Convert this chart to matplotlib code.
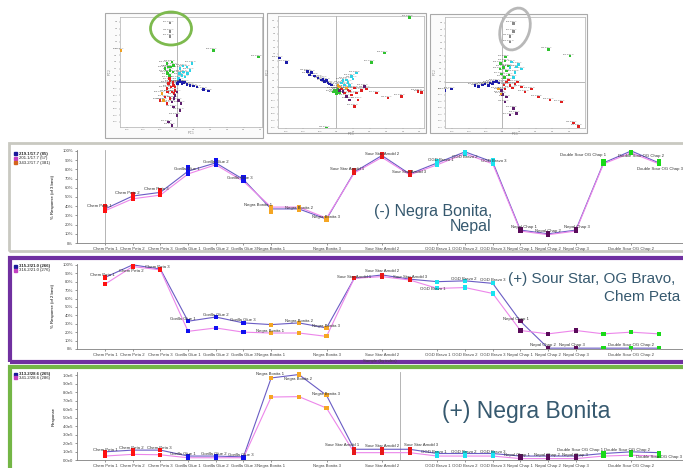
"""Cannabis strain profiling: PCA score plots and marker-ion response traces."""

import numpy as np
import matplotlib
matplotlib.use("Agg")
import matplotlib.pyplot as plt
from matplotlib.patches import Rectangle, Ellipse

# ---------------------------------------------------------------- data
samples = [
    "Chem Peta 1", "Chem Peta 2", "Chem Peta 3",
    "Gorilla Glue 1", "Gorilla Glue 2", "Gorilla Glue 3",
    "Negra Bonita 1", "Negra Bonita 2", "Negra Bonita 3",
    "Sour Star Arnold 1", "Sour Star Arnold 2", "Sour Star Arnold 3",
    "OGD Bravo 1", "OGD Bravo 2", "OGD Bravo 3",
    "Nepal Chap 1", "Nepal Chap 2", "Nepal Chap 3",
    "Double Sour OG Chap 1", "Double Sour OG Chap 2", "Double Sour OG Chap 3",
]
strain_colors = (["#ff1010"] * 3 + ["#1010f0"] * 3 + ["#f5a623"] * 3
                 + ["#e81818"] * 3 + ["#19e3f0"] * 3 + ["#5a0a5a"] * 3
                 + ["#19d919"] * 3)
tick_idx = [0, 1, 2, 3, 4, 5, 6, 8, 10, 12, 13, 14, 15, 16, 17, 19]

# panel 1: % response (of 3 best), three marker ions
ion1_names = ["219.1/17.7 (85)", "201.1/17.7 (57)", "343.2/17.7 (381)"]
ion1_a = [37, 51, 55, 78, 87, 69, 37, 37, 26, 77, 95, 75, 87, 99, 88, 14, 10, 14, 87, 100, 87]
ion1_b = [35, 48, 52, 75, 85, 67, 39, 39, 27, 76, 93, 74, 85, 97, 86, 13, 9, 13, 86, 98, 86]
ion1_c = [40, 53, 58, 82, 90, 72, 34, 36, 25, 79, 97, 77, 89, 100, 90, 15, 11, 15, 89, 100, 89]

# panel 2: % response, two marker ions
ion2_names = ["315.2/21.0 (266)", "316.2/21.0 (276)"]
ion2_a = [85, 100, 95, 33, 38, 31, 29, 31, 25, 84, 88, 83, 80, 81, 78, 33, 1, 1, 1, 1, 1]
ion2_b = [77, 98, 94, 21, 25, 20, 19, 19, 15, 84, 86, 82, 72, 73, 66, 22, 18, 22, 18, 20, 18]

# panel 3: raw response, two marker ions
ion3_names = ["313.2/28.6 (265)", "341.2/28.6 (286)"]
ion3_a = [1.0e5, 1.2e5, 1.2e5, 0.5e5, 0.5e5, 0.4e5, 9.7e5, 10.1e5, 7.65e5, 1.3e5, 1.3e5,
          1.3e5, 0.8e5, 0.8e5, 0.8e5, 0.5e5, 0.5e5, 0.5e5, 0.8e5, 1.0e5, 0.9e5]
ion3_b = [0.5e5, 0.7e5, 0.65e5, 0.3e5, 0.3e5, 0.3e5, 7.45e5, 7.5e5, 6.15e5, 0.9e5, 0.9e5,
          0.9e5, 0.5e5, 0.5e5, 0.5e5, 0.2e5, 0.2e5, 0.2e5, 0.5e5, 0.6e5, 0.5e5]

# PCA score plots (PC1, PC2) with strain group codes
scores1 = [(-0.30, 0.55), (-0.25, 0.45), (-0.20, 0.35), (-0.30, 0.30), (-0.15, 0.60),
           (-0.35, 0.40), (-0.22, 0.20), (-0.18, 0.45), (-0.28, 0.25), (-0.10, 0.50),
           (-0.12, 0.30), (2.45, 0.75), (1.10, 0.95), (-1.68, 0.95),
           (0.10, 0.40), (0.20, 0.30), (0.30, 0.45), (0.15, 0.20), (0.40, 0.35),
           (0.05, 0.10), (0.25, 0.15), (0.45, 0.55), (0.08, 0.25), (0.32, 0.25), (0.18, 0.48),
           (-0.20, 0.05), (-0.10, -0.10), (-0.30, -0.20), (-0.15, -0.30), (-0.25, -0.05),
           (-0.05, -0.25), (-0.35, -0.45), (-0.20, -0.50), (-0.50, -0.55), (-0.30, -0.65),
           (-0.12, -0.02), (-0.18, -0.15), (-0.08, -0.35), (-0.28, -0.30), (-0.22, 0.10),
           (-0.05, -0.15),
           (0.05, 0.00), (0.15, -0.05), (0.25, 0.00), (0.40, -0.10), (0.60, -0.15),
           (0.80, -0.23), (0.95, -0.27), (0.10, 0.05), (0.02, -0.05), (0.20, -0.02),
           (0.30, -0.08), (0.50, -0.12), (0.12, 0.00),
           (-0.05, -0.40), (0.05, -0.55), (-0.10, -0.75), (0.10, -0.85), (0.00, -1.00),
           (-0.15, -0.60), (0.00, -0.30), (0.12, -0.65), (-0.08, -0.50), (-0.25, -1.20),
           (-0.15, -1.30),
           (-0.40, -0.55), (-0.45, -0.35),
           (-0.20, 1.77), (-0.20, 1.52), (-0.20, 1.37)]
groups1 = "g" * 13 + "o" + "c" * 11 + "r" * 16 + "b" * 13 + "p" * 11 + "oo" + "kkk"

scores2 = [(-1.70, 0.87), (-1.50, 0.74), (-0.87, 0.47), (-0.75, 0.44), (-0.80, 0.37),
           (-0.65, 0.34), (-0.45, 0.22), (-0.35, 0.17), (-0.25, 0.12), (-0.15, 0.07),
           (-0.30, 0.20), (-0.55, 0.28), (-0.40, 0.25), (-0.20, 0.10),
           (0.15, 0.12), (0.30, 0.22), (0.45, 0.32), (0.60, 0.42), (0.35, 0.14),
           (0.25, 0.07), (0.50, 0.25), (0.20, 0.20), (0.40, 0.05),
           (2.20, 2.10), (1.45, 1.02), (1.05, 0.74), (0.00, -0.13), (0.10, -0.18),
           (-0.05, -0.08), (0.05, -0.06), (0.00, -0.20), (-0.08, -0.15), (-0.30, -1.23),
           (0.15, -0.06), (0.35, -0.08), (0.55, -0.03), (0.75, -0.10), (1.20, -0.18),
           (1.55, -0.33), (1.95, -0.28), (2.45, -0.13), (2.55, -0.16), (0.25, -0.18),
           (0.45, -0.23), (0.65, -0.38), (0.55, -0.58), (0.30, -0.02), (0.20, -0.12),
           (0.40, -0.12), (0.60, -0.18), (0.90, -0.05),
           (0.20, -0.13), (0.85, 0.02), (0.40, -0.38), (0.30, -0.28), (0.10, -0.10),
           (0.10, 0.00), (0.30, -0.03), (0.05, 0.05)]
groups2 = "b" * 14 + "c" * 9 + "g" * 10 + "r" * 18 + "p" * 5 + "ooo"

scores3 = [(0.33, 1.78), (0.33, 1.53), (0.23, 1.38), (0.23, 1.21),
           (0.08, 0.63), (0.03, 0.43), (0.13, 0.33), (-0.02, 0.23), (0.18, 0.48),
           (0.06, 0.13), (-0.07, 0.38), (0.10, 0.75), (-0.05, 0.55), (0.20, 0.20),
           (1.38, 0.98), (2.03, 0.78),
           (0.23, 0.43), (0.38, 0.28), (0.48, 0.53), (0.33, 0.13), (0.58, 0.38),
           (0.28, 0.60), (0.42, 0.45),
           (-1.72, -0.27), (-1.52, -0.22), (-0.82, -0.12), (-0.72, -0.15), (-0.52, -0.07),
           (-0.37, -0.05), (-0.27, -0.02), (-0.17, 0.00), (-0.42, -0.12), (-0.60, -0.10),
           (-0.30, -0.08), (-0.10, -0.05),
           (0.13, -0.02), (0.23, -0.12), (0.38, -0.07), (0.58, -0.17), (0.68, -0.32),
           (0.88, -0.22), (1.08, -0.47), (1.43, -0.57), (1.78, -0.62), (2.13, -1.27),
           (2.28, -1.37), (0.08, -0.22), (0.18, 0.05), (0.30, -0.20), (0.45, -0.02),
           (0.05, -0.10),
           (-0.02, -0.27), (0.13, -0.47), (0.33, -0.82), (0.43, -0.97), (0.23, -1.02),
           (0.08, -0.62), (0.00, -0.40),
           (-0.12, -0.22), (-0.04, -0.37)]
groups3 = "kkkk" + "g" * 12 + "c" * 7 + "b" * 12 + "r" * 16 + "p" * 7 + "oo"

ion_tags = ["219.1/17.7", "201.1/17.7", "343.2/17.7", "315.2/21.0", "316.2/21.0", "313.2/28.6"]

group_colors = {"b": "#1c1ca8", "r": "#e02020", "g": "#2fc22f", "c": "#2fd3e6",
                "p": "#5e1f6e", "o": "#f0a020", "k": "#8a8a8a"}

# ---------------------------------------------------------------- layout helpers
W, H = 683, 468
fig = plt.figure(figsize=(W / 100, H / 100), dpi=100)
fig.patch.set_facecolor("white")
plt.rcParams["font.family"] = ["Liberation Sans", "DejaVu Sans"]

TEXT_BLUE = "#36596f"
LINE_DARK = "#6a5cc4"
LINE_PINK = "#ec86ea"


def axes_px(left, top, right, bottom):
    return fig.add_axes([left / W, 1 - bottom / H, (right - left) / W, (bottom - top) / H])


def frame_px(left, top, right, bottom, color, lw, face="none"):
    fig.add_artist(Rectangle((left / W, 1 - bottom / H), (right - left) / W,
                             (bottom - top) / H, transform=fig.transFigure,
                             facecolor=face, edgecolor=color, linewidth=lw,
                             clip_on=False, zorder=0))


def text_px(x, y, s, **kw):
    fig.text(x / W, 1 - y / H, s, **kw)


# ---------------------------------------------------------------- PCA boxes
def score_box(outer, inner, xlim, ylim, pts, groups):
    frame_px(*outer, color="#a9a9a9", lw=0.8, face="#fbfbfb")
    ax = axes_px(*inner)
    ax.set_facecolor("white")
    pts = np.array(pts)
    cols = [group_colors[g] for g in groups]
    ax.axhline(0, color="#9a9a9a", lw=0.5, zorder=1)
    ax.axvline(0, color="#9a9a9a", lw=0.5, zorder=1)
    ax.scatter(pts[:, 0], pts[:, 1], c=cols, s=3.0, marker="s", linewidths=0, zorder=3)
    for i, (x, y) in enumerate(pts):
        ax.text(x - 0.05, y + 0.04, ion_tags[i % len(ion_tags)], fontsize=1.7,
                color="#555555", ha="center", va="bottom", zorder=2)
    ax.set_xlim(*xlim)
    ax.set_ylim(*ylim)
    ax.set_xticks(np.arange(np.ceil(xlim[0] * 2) / 2, xlim[1], 0.5))
    ax.set_yticks(np.arange(np.ceil(ylim[0] * 5) / 5, ylim[1], 0.2))
    ax.tick_params(labelsize=1.6, length=1, width=0.3, pad=0.8, colors="#707070")
    ax.set_xlabel("PC 1", fontsize=1.8, labelpad=0.5, color="#666666")
    ax.set_ylabel("PC 2", fontsize=1.8, labelpad=0.5, color="#666666")
    for sp in ax.spines.values():
        sp.set_color("#b0b0b0")
        sp.set_linewidth(0.5)
    return ax


score_box((105, 13, 263, 138), (120, 17, 262, 127), (-1.7, 2.55), (-1.35, 1.95),
          scores1, groups1)
score_box((267, 13, 426, 133), (278, 16, 424, 128), (-1.75, 2.63), (-1.23, 2.14),
          scores2, groups2)
score_box((430, 14, 587, 133), (445, 17, 585, 128), (-1.72, 2.48), (-1.42, 1.98),
          scores3, groups3)

# highlight rings around the isolated top clusters
fig.add_artist(Ellipse((171 / 100, (H - 28.5) / 100), 41 / 100, 33 / 100,
                       transform=fig.dpi_scale_trans, fill=False,
                       edgecolor="#7dba4e", linewidth=2.0, clip_on=False))
fig.add_artist(Ellipse((515 / 100, (H - 29) / 100), 29 / 100, 43 / 100, angle=-18,
                       transform=fig.dpi_scale_trans, fill=False,
                       edgecolor="#b8b8b8", linewidth=2.0, clip_on=False))


# ---------------------------------------------------------------- response panels
def response_panel(ax, lines, extra, label_offsets, ylim, vline=None):
    x = np.arange(len(samples))
    if vline is not None:
        ax.axvline(vline, color="#a8a8a8", lw=0.6, zorder=1)
    for vals, col in zip(lines, [LINE_DARK, LINE_PINK]):
        ax.plot(x, vals, color=col, lw=0.8, zorder=2)
    for vals in list(lines) + list(extra):
        ax.scatter(x, vals, c=strain_colors, marker="s", s=9, linewidths=0, zorder=3)
    for i, off in enumerate(label_offsets):
        if off is None:
            continue
        ax.annotate(samples[i], (x[i], lines[0][i]), xytext=(off[0] * 0.72, off[1] * 0.72),
                    textcoords="offset points", fontsize=3.1, color="#333333",
                    ha="center", va="center", zorder=4)
    ax.set_xlim(-1.01, 20.87)
    ax.set_ylim(*ylim)
    ax.set_xticks(tick_idx)
    ax.set_xticklabels([samples[i] for i in tick_idx])
    ax.tick_params(labelsize=3.1, length=1.5, width=0.4, pad=1.5, colors="#444444")
    for side in ["top", "right"]:
        ax.spines[side].set_visible(False)
    for side in ["left", "bottom"]:
        ax.spines[side].set_color("#808080")
        ax.spines[side].set_linewidth(0.6)
    ax.set_facecolor("none")


def legend_px(x, y, names, colors, step):
    for k, (name, col) in enumerate(zip(names, colors)):
        yy = y + k * step
        fig.add_artist(Rectangle(((x - 3) / W, 1 - (yy + 1.5) / H), 3 / W, 3 / H,
                                 transform=fig.transFigure, color=col, clip_on=False))
        text_px(x + 2, yy, name, fontsize=3.1, va="center", color="#222222",
                fontweight="bold" if k == 0 else "normal")


pct = plt.FuncFormatter(lambda v, _: f"{v:.0f}%")

# panel 1
frame_px(9, 143, 700, 251, color="#c9c9c1", lw=2.0)
ax1 = axes_px(77, 150, 683, 243)
off1 = [(-6, 3), (-5, 3), (-4, 3), (-1, 2), (0, 1), (-4, 1), (-13, 4), (0, 1), (-1, 2),
        (-7, 3), (0, 2), (-1, 2), (3, 3), (0, -5), (1, 1), (4, 3), (0, 3), (1, 3),
        (-21, 8), (10, -5), (1, -6)]
response_panel(ax1, [ion1_a, ion1_b], [ion1_c], off1, (0, 101), vline=0)
ax1.set_yticks(np.arange(0, 101, 10))
ax1.yaxis.set_major_formatter(pct)
ax1.set_ylabel("% Response (of 3 best)", fontsize=3.1, labelpad=5)
legend_px(17, 154, ion1_names, ["#1a1a9a", "#c23fc2", "#d4641e"], 4.4)
text_px(374, 216, "(-) Negra Bonita,", fontsize=11.5, color=TEXT_BLUE, va="baseline")
text_px(491, 231, "Nepal", fontsize=11.5, color=TEXT_BLUE, va="baseline", ha="right")

# panel 2
frame_px(10, 258, 700, 362, color="#7030a0", lw=3.0)
ax2 = axes_px(77, 264, 683, 349)
off2 = [(-3, 2), (-1, -6), (-3, 2), (-5, 2), (0, 2), (-1, 3), (-1, -6), (0, 2), (-1, 2),
        (0, 1), (0, 4), (0, 2), (-5, -7), (-1, 2), (0, 3), (-4, 2), (-5, 3), (-4, 3),
        None, (0, 3), None]
response_panel(ax2, [ion2_a, ion2_b], [], off2, (0, 101))
ax2.set_yticks(np.arange(0, 101, 10))
ax2.yaxis.set_major_formatter(pct)
ax2.set_ylabel("% Response (of 2 best)", fontsize=3.1, labelpad=5)
ax2.set_xlabel("Sample (by index)", fontsize=3.1, labelpad=1, color="#444444")
legend_px(17, 266, ion2_names, ["#1a1a9a", "#c23fc2"], 4.0)
text_px(508, 283, "(+) Sour Star, OG Bravo,", fontsize=11, color=TEXT_BLUE, va="baseline")
text_px(680, 301, "Chem Peta", fontsize=11, color=TEXT_BLUE, va="baseline", ha="right")

# panel 3
frame_px(10, 367, 700, 490, color="#74b646", lw=3.0)
ax3 = axes_px(77, 372, 683, 460.3)
off3 = [(0, 2), (-1, 2), (-1, 2), (-5, 2), (-2, 2), (-3, 2), (-1, 4), (-1, -4), (-1, 1),
        (-12, 4), (0, 3), (11, 4), (-4, 2), (-1, 2), (0, 2), (-3, 1), (-1, 1), (-1, 1),
        (-24, 4), (-4, 2), (0, -4)]
response_panel(ax3, [ion3_a, ion3_b], [], off3, (0, 1.04e6), vline=10.65)
ax3.set_yticks(np.arange(0, 1.01e6, 1e5))


def sci_label(v, _):
    if v == 0:
        return "0.0e0"
    e = int(np.floor(np.log10(v) + 1e-9))
    return f"{v / 10 ** e:.1f}e{e}"


ax3.yaxis.set_major_formatter(plt.FuncFormatter(sci_label))
ax3.set_ylabel("Response", fontsize=3.1, labelpad=5)
legend_px(17, 374.5, ion3_names, ["#1a1a9a", "#c23fc2"], 3.4)
text_px(442, 418, "(+) Negra Bonita", fontsize=16.5, color=TEXT_BLUE, va="baseline")

fig.savefig("out.png", dpi=100, facecolor="white")
